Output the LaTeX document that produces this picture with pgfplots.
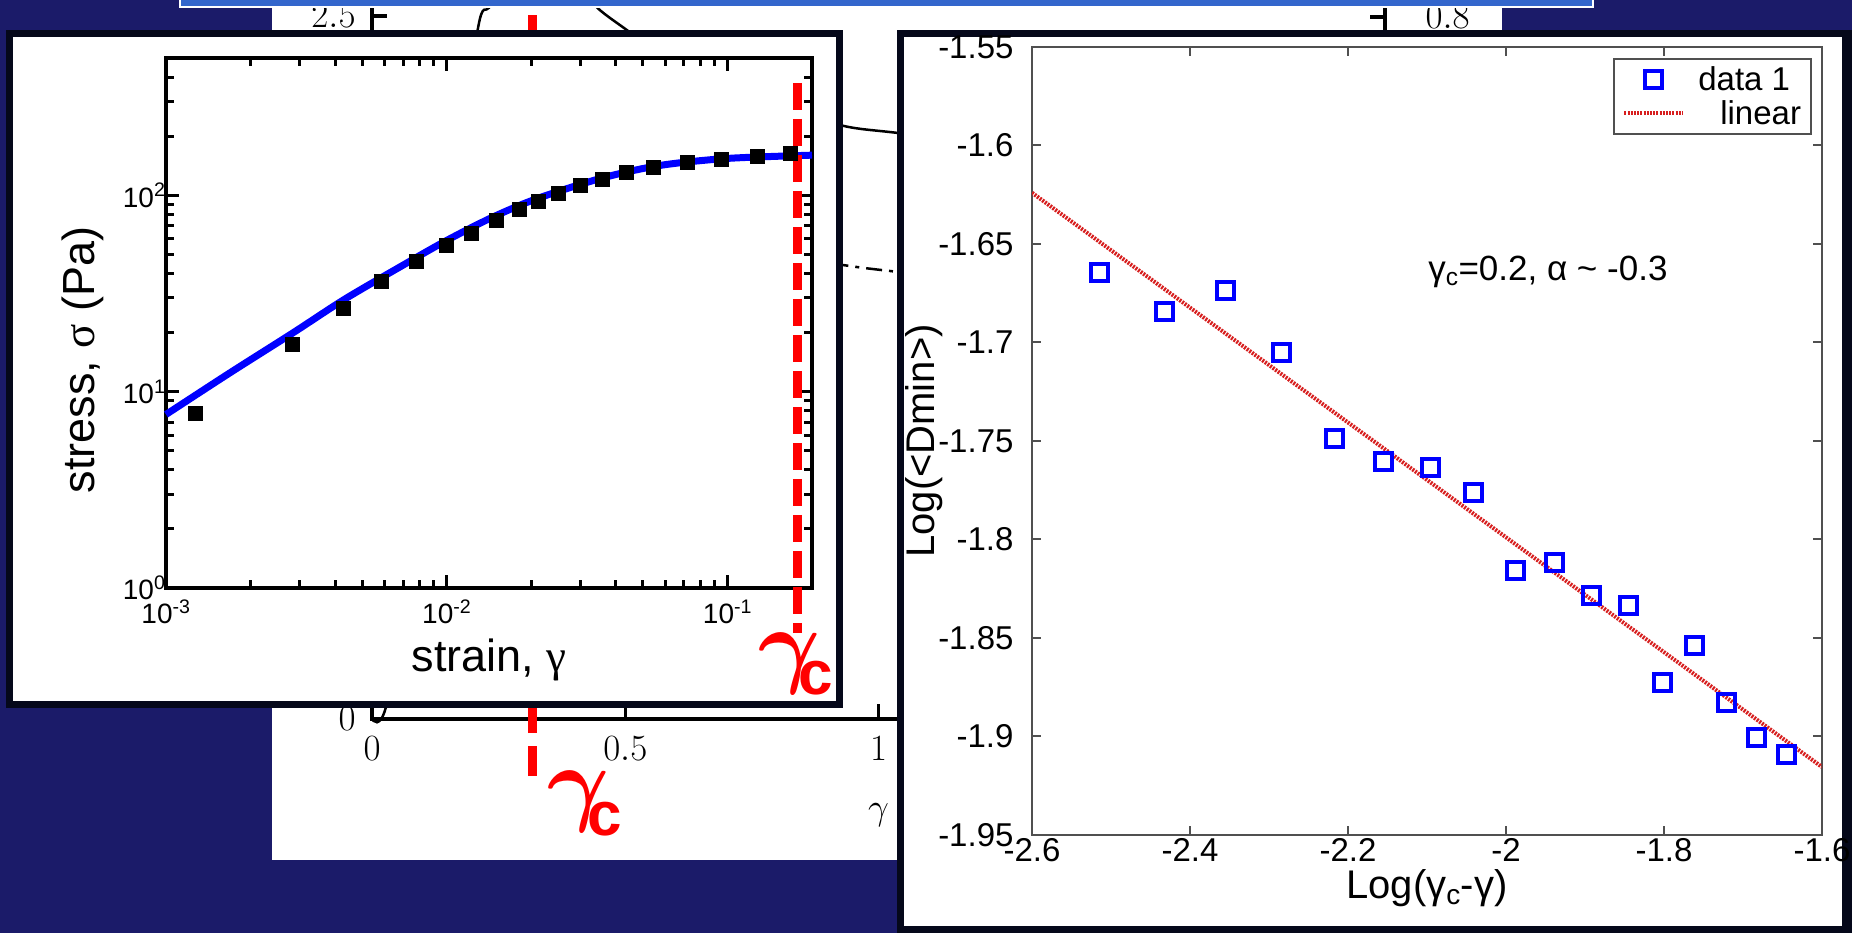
\RequirePackage{fix-cm}
\documentclass[border=0pt]{standalone}
\usepackage{fontspec}
\setmainfont{Liberation Sans}
\newfontfamily\serif{Liberation Serif}
\usepackage{pgfplots}
\pgfplotsset{compat=1.18}
\definecolor{navy}{RGB}{27,27,105}
\definecolor{framek}{RGB}{5,8,26}
\definecolor{banner}{RGB}{51,102,204}
\definecolor{matred}{RGB}{215,30,30}
\definecolor{axgray}{RGB}{80,80,80}
\newcommand{\gammac}[1]{{\fontsize{95}{95}\selectfont\boldmath$\gamma$}\kern-22pt\raisebox{#1}{\fontsize{62}{62}\selectfont\bfseries c}}
\begin{document}
\begin{tikzpicture}[x=1pt,y=1pt]
\path[use as bounding box] (0,0) rectangle (1852,933);
\clip (0,0) rectangle (1852,933);
\fill[navy] (0,0) rectangle (1852,933);
\fill[white] (272,73) rectangle (1502,940);

% ---------- background figure ----------
\begin{axis}[scale only axis, width=1013pt, height=714pt, at={(372pt,214pt)}, anchor=south west,
  xmin=0, xmax=2, ymin=0, ymax=2.539, clip=false,
  axis line style={line width=3.5pt},
  tick align=inside, major tick length=15pt, tick style={line width=3.5pt, black},
  xtick={0,0.5,1,1.5,2}, ytick={0,0.5,1,1.5,2,2.5}, xtick pos=bottom, ytick pos=left,
  ticklabel style={font=\fontsize{37}{37}\selectfont},
  yticklabel style={xshift=-13pt}, xticklabel style={yshift=-14pt},
  xlabel={$\gamma$}, label style={font=\fontsize{37}{37}\selectfont},
  xlabel style={at={(axis description cs:0.5,0)}, anchor=center, yshift=-96pt}]
\addplot[black, line width=2.5pt, smooth] coordinates {(0,0) (0.03,0.06) (0.1,0.8) (0.16,1.8) (0.209,2.454) (0.231,2.529) (0.26,2.6) (0.34,2.66) (0.42,2.6) (0.445,2.529) (0.5,2.454) (0.55,2.39) (0.65,2.29) (0.8,2.18) (0.931,2.109) (1.038,2.084) (1.3,2.03) (1.6,1.99) (2,1.96)};
\addplot[black, line width=2.5pt, dash pattern=on 16pt off 7pt on 4pt off 7pt, smooth] coordinates {(0.05,0.3) (0.2,1.2) (0.4,1.6) (0.6,1.68) (0.8,1.65) (0.931,1.614) (1.038,1.59) (1.5,1.5) (2,1.42)};
\addplot[red, line width=9pt, dash pattern=on 30pt off 13pt] coordinates {(0.316,-0.203) (0.316,2.6)};
\end{axis}
\begin{axis}[scale only axis, width=1013pt, height=714pt, at={(372pt,214pt)}, anchor=south west,
  xmin=0, xmax=2, ymin=0, ymax=0.8137, hide x axis, axis y line*=right,
  axis line style={line width=3.5pt},
  tick align=inside, major tick length=15pt, tick style={line width=3.5pt, black},
  ytick={0,0.2,0.4,0.6,0.8},
  ticklabel style={font=\fontsize{37}{37}\selectfont},
  yticklabel style={xshift=37pt}]
\addplot[draw=none] coordinates {(0,0) (2,0.8)};
\end{axis}
\node[anchor=base west, inner sep=0pt, text=red] at (547,119) {\gammac{-22pt}};

% banner
\draw[white, line width=2pt, fill=banner] (180,926) rectangle (1593,945);

% ---------- left inset ----------
\fill[framek] (6,225) rectangle (843,903);
\fill[white] (13,232) rectangle (836,896);
\begin{axis}[scale only axis, width=646pt, height=530pt, at={(166pt,345pt)}, anchor=south west,
  xmode=log, ymode=log, xmin=1e-3, xmax=0.2, ymin=1, ymax=500, clip=false,
  axis line style={line width=4pt},
  tick align=inside, major tick length=13pt, minor tick length=8pt,
  tick style={line width=3pt, black},
  xtick={0.001,0.01,0.1}, xticklabels={10\textsuperscript{-3},10\textsuperscript{-2},10\textsuperscript{-1}},
  ytick={1,10,100}, yticklabels={10\textsuperscript{0},10\textsuperscript{1},10\textsuperscript{2}},
  minor xtick={0.002,0.003,0.004,0.005,0.006,0.007,0.008,0.009,0.02,0.03,0.04,0.05,0.06,0.07,0.08,0.09},
  minor ytick={2,3,4,5,6,7,8,9,20,30,40,50,60,70,80,90,200,300,400},
  ticklabel style={font=\fontsize{28}{28}\selectfont},
  xticklabel style={yshift=-8pt}, yticklabel style={xshift=3pt},
  xlabel={strain, {\serif γ}}, ylabel={stress, {\serif σ} (Pa)},
  label style={font=\fontsize{45}{45}\selectfont},
  xlabel style={at={(axis description cs:0.5,-0.136)}, anchor=center},
  ylabel style={at={(axis description cs:-0.128,0.43)}, anchor=center}]
\addplot[blue, line width=7pt, smooth] coordinates {(0.001,7.65) (0.00168,12.4) (0.00283,19.9) (0.00432,29.5) (0.00692,43.7) (0.01,58.9) (0.0147,77.8) (0.0213,96.9) (0.036,122.7) (0.0578,142) (0.1,154) (0.2,160)};
\addplot[black, only marks, mark=square*, mark size=7pt, line width=1pt] coordinates {(0.00127,7.73) (0.00283,17.3) (0.00428,26.5) (0.00586,36.3) (0.00782,46.0) (0.00995,55.3) (0.0123,64.0) (0.0151,74.5) (0.0181,84.2) (0.0213,93.4) (0.0250,102.6) (0.0300,112) (0.0360,120.8) (0.0438,130) (0.0547,138) (0.0719,146) (0.0955,152) (0.128,158) (0.167,164)};
\addplot[red, line width=9pt, dash pattern=on 27pt off 9pt] coordinates {(0.1775,373) (0.1775,0.589)};
\end{axis}
\node[anchor=base west, inner sep=0pt, text=red] at (758,257) {\gammac{-19pt}};

% ---------- right panel ----------
\fill[framek] (897,0) rectangle (1852,903);
\fill[white] (904,7) rectangle (1842,896);
\begin{axis}[scale only axis, width=790pt, height=788pt, at={(1032pt,98pt)}, anchor=south west,
  xmin=-2.6, xmax=-1.6, ymin=-1.95, ymax=-1.55,
  axis line style={line width=2pt, axgray},
  tick align=inside, major tick length=9pt, tick style={line width=2pt, axgray},
  xtick={-2.6,-2.4,-2.2,-2,-1.8,-1.6}, xticklabels={-2.6,-2.4,-2.2,-2,-1.8,-1.6},
  ytick={-1.95,-1.9,-1.85,-1.8,-1.75,-1.7,-1.65,-1.6,-1.55},
  yticklabels={-1.95,-1.9,-1.85,-1.8,-1.75,-1.7,-1.65,-1.6,-1.55},
  ticklabel style={font=\fontsize{33}{33}\selectfont},
  yticklabel style={xshift=-15pt},
  xlabel={Log(γ\textsubscript{c}-γ)}, ylabel={Log(<Dmin>)},
  label style={font=\fontsize{40}{40}\selectfont},
  xlabel style={at={(axis description cs:0.5,-0.0673)}, anchor=center},
  ylabel style={at={(axis description cs:-0.1367,0.5)}, anchor=center},
  legend style={at={(1,1)}, anchor=north east, xshift=-10pt, yshift=-11pt, draw=axgray, line width=2pt,
    font=\fontsize{33}{40}\selectfont, inner xsep=8pt, inner ysep=6pt, column sep=12pt, row sep=4pt},
  legend cell align=left,
  legend image code/.code={\draw[mark repeat=2,mark phase=2,#1] plot coordinates {(0pt,0pt) (29pt,0pt) (58pt,0pt)};}]
\addplot[only marks, mark=square, mark size=8.5pt, blue, line width=4pt] coordinates {(-2.514,-1.6646) (-2.432,-1.6845) (-2.355,-1.6734) (-2.284,-1.705) (-2.217,-1.7488) (-2.155,-1.7605) (-2.096,-1.7634) (-2.041,-1.776) (-1.988,-1.8155) (-1.938,-1.8117) (-1.892,-1.8284) (-1.845,-1.8336) (-1.802,-1.8725) (-1.761,-1.854) (-1.721,-1.8827) (-1.683,-1.9003) (-1.645,-1.909)};
\addlegendentry{data 1}
\addplot[matred, line width=4pt, dash pattern=on 2pt off 1.2pt] coordinates {(-2.6,-1.624) (-1.6,-1.9155)};
\addlegendentry{\hspace*{22pt}linear}
\node at (axis cs:-1.947,-1.664) {\fontsize{35}{35}\selectfont γ\textsubscript{c}=0.2, α \textasciitilde{} -0.3};
\end{axis}
\end{tikzpicture}
\end{document}
